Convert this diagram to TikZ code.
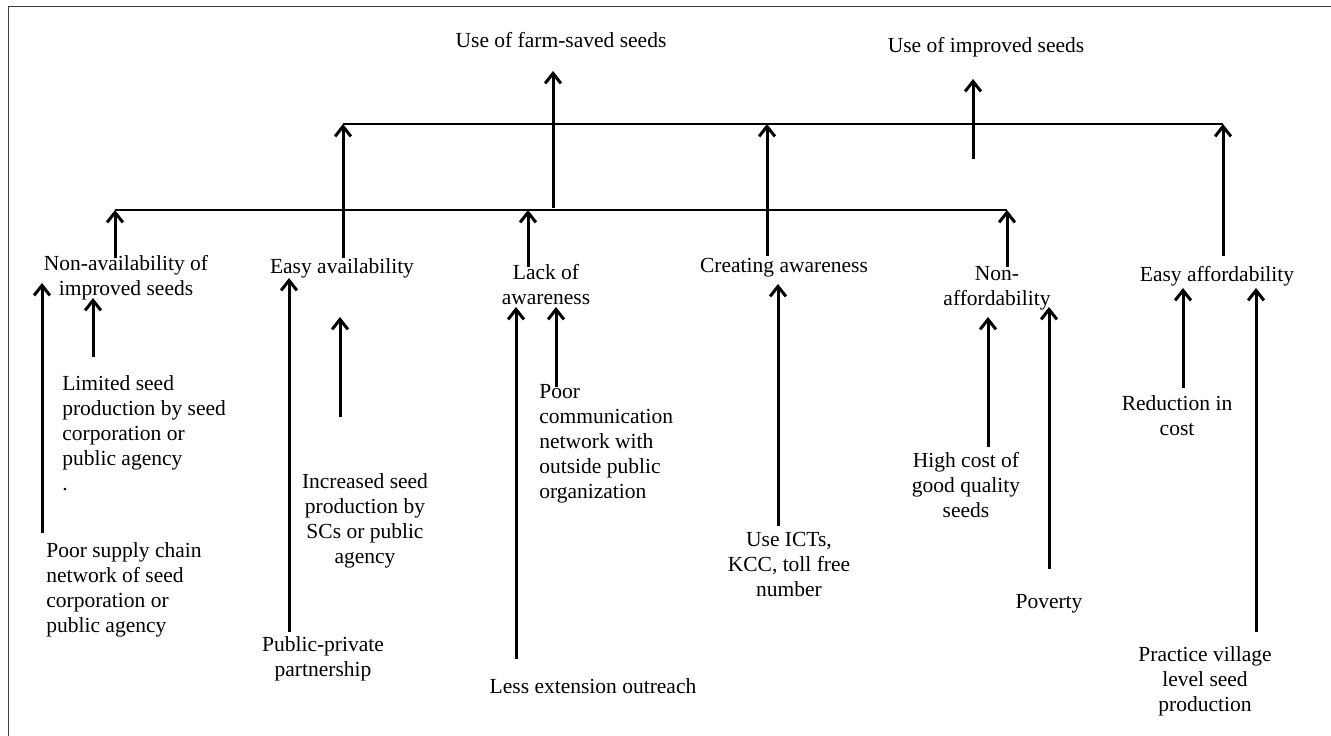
\documentclass[tikz,border=0pt]{standalone}
\usepackage{fontspec}
\setmainfont{Liberation Serif}
\usepackage{tikz}
\usetikzlibrary{arrows.meta,calc,positioning}

\begin{document}
\begin{tikzpicture}[x=0.6pt,y=-0.6pt,>={Straight Barb[length=6pt,width=9.5pt]},
  every node/.style={font=\fontsize{12.9}{15}\selectfont,inner sep=0pt},
  arr/.style={->,line width=1.8pt},
  bar/.style={line width=1.3pt}]
  \useasboundingbox (0,0) rectangle (1331,736);
  \draw[black!75,line width=0.6pt] (8,7) rectangle (1345,750);

  \node (farmsaved) at (561,40) {Use of farm-saved seeds};
  \node (improved) at (986,47) {Use of improved seeds};

  \node[align=center] (nonavail) at (126,278) {Non-availability of\\improved seeds};
  \node (easyavail) at (342,268) {Easy availability};
  \node[align=center] (lack) at (546,285) {Lack of\\awareness};
  \node (creating) at (784,268) {Creating awareness};
  \node[align=center] (nonafford) at (997,288) {Non-\\affordability};
  \node (easyafford) at (1217,276) {Easy affordability};

  \node[align=left,anchor=west] (limited) at (62,433) {Limited seed\\production by seed\\corporation or\\public agency\\.};
  \node[align=left,anchor=west] (poorsupply) at (46,590) {Poor supply chain\\network of seed\\corporation or\\public agency};
  \node[align=center] (increased) at (365,521) {Increased seed\\production by\\SCs or public\\agency};
  \node[align=center] (ppp) at (323,659) {Public-private\\partnership};
  \node[align=left,anchor=west] (poorcomm) at (539,444) {Poor\\communication\\network with\\outside public\\organization};
  \node (lessext) at (593,686) {Less extension outreach};
  \node[align=center] (icts) at (789,564) {Use ICTs,\\KCC, toll free\\number};
  \node[align=center] (highcost) at (966,485) {High cost of\\good quality\\seeds};
  \node (poverty) at (1049,604) {Poverty};
  \node[align=center] (reduction) at (1177,416) {Reduction in\\cost};
  \node[align=center] (village) at (1205,681) {Practice village\\level seed\\production};

  \coordinate (lowL) at (115,210); \coordinate (lowR) at (1007,210);
  \coordinate (upL) at (343,124); \coordinate (upR) at (1223,124);
  \draw[bar] (lowL) -- (lowR);
  \draw[bar] (upL) -- (upR);

  \coordinate (nonavailS) at (115,258); \coordinate (lackS) at (528,267);
  \coordinate (nonaffordS) at (1007,267); \coordinate (lackT) at (528,210);
  \coordinate (easyavailS) at (343,258); \coordinate (creatingS) at (767,256);
  \coordinate (easyaffordS) at (1223,256); \coordinate (creatingT) at (767,124);
  \coordinate (farmS) at (553,208); \coordinate (farmT) at (553,71);
  \coordinate (improvedS) at (973,159); \coordinate (improvedT) at (973,79);
  \draw[arr] (nonavailS) -- (lowL);
  \draw[arr] (lackS) -- (lackT);
  \draw[arr] (nonaffordS) -- (lowR);
  \draw[arr] (easyavailS) -- (upL);
  \draw[arr] (creatingS) -- (creatingT);
  \draw[arr] (easyaffordS) -- (upR);
  \draw[arr] (farmS) -- (farmT);
  \draw[arr] (improvedS) -- (improvedT);

  \coordinate (poorsupplyS) at (42,533); \coordinate (poorsupplyT) at (42,283);
  \coordinate (limitedS) at (93,357); \coordinate (limitedT) at (93,298);
  \coordinate (pppS) at (289,632); \coordinate (pppT) at (289,278);
  \coordinate (increasedS) at (340,417); \coordinate (increasedT) at (340,317);
  \coordinate (lessextS) at (516,659); \coordinate (lessextT) at (516,307);
  \coordinate (poorcommS) at (556,387); \coordinate (poorcommT) at (556,307);
  \coordinate (ictsS) at (778,526); \coordinate (ictsT) at (778,284);
  \coordinate (highcostS) at (988,447); \coordinate (highcostT) at (988,317);
  \coordinate (povertyS) at (1049,569); \coordinate (povertyT) at (1049,307);
  \coordinate (reductionS) at (1183,388); \coordinate (reductionT) at (1183,288);
  \coordinate (villageS) at (1256,632); \coordinate (villageT) at (1256,288);
  \draw[arr] (poorsupplyS) -- (poorsupplyT);
  \draw[arr] (limitedS) -- (limitedT);
  \draw[arr] (pppS) -- (pppT);
  \draw[arr] (increasedS) -- (increasedT);
  \draw[arr] (lessextS) -- (lessextT);
  \draw[arr] (poorcommS) -- (poorcommT);
  \draw[arr] (ictsS) -- (ictsT);
  \draw[arr] (highcostS) -- (highcostT);
  \draw[arr] (povertyS) -- (povertyT);
  \draw[arr] (reductionS) -- (reductionT);
  \draw[arr] (villageS) -- (villageT);
\end{tikzpicture}
\end{document}
